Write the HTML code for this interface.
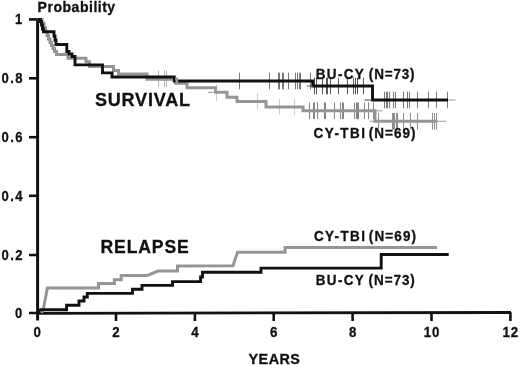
<!DOCTYPE html>
<html><head><meta charset="utf-8"><style>
html,body{margin:0;padding:0;background:#fff;width:520px;height:365px;overflow:hidden}
svg{display:block;filter:grayscale(1)}
text{font-family:"Liberation Sans",sans-serif;font-weight:bold;fill:#111;stroke:#111;stroke-width:0.3px}
</style></head><body>
<svg width="520" height="365" viewBox="0 0 520 365">
<rect width="520" height="365" fill="#fff"/>
<path d="M37.6,19.4 L37.6,320.5" stroke="#111" stroke-width="3" fill="none"/>
<path d="M36.3,313.3 L511,312.5" stroke="#111" stroke-width="2.8" fill="none"/>
<line x1="29" y1="19.4" x2="37.6" y2="19.4" stroke="#111" stroke-width="2.6"/>
<line x1="29" y1="78.3" x2="37.6" y2="78.3" stroke="#111" stroke-width="2.6"/>
<line x1="29" y1="137.2" x2="37.6" y2="137.2" stroke="#111" stroke-width="2.6"/>
<line x1="29" y1="195.8" x2="37.6" y2="195.8" stroke="#111" stroke-width="2.6"/>
<line x1="29" y1="255.0" x2="37.6" y2="255.0" stroke="#111" stroke-width="2.6"/>
<line x1="29" y1="313" x2="37.6" y2="313" stroke="#111" stroke-width="2.6"/>
<line x1="116.0" y1="312.9" x2="116.0" y2="321" stroke="#111" stroke-width="2.6"/>
<line x1="194.9" y1="312.7" x2="194.9" y2="321" stroke="#111" stroke-width="2.6"/>
<line x1="273.7" y1="312.6" x2="273.7" y2="321" stroke="#111" stroke-width="2.6"/>
<line x1="352.6" y1="312.5" x2="352.6" y2="321" stroke="#111" stroke-width="2.6"/>
<line x1="431.5" y1="312.4" x2="431.5" y2="321" stroke="#111" stroke-width="2.6"/>
<line x1="510.4" y1="312.2" x2="510.4" y2="321" stroke="#111" stroke-width="2.6"/>
<line x1="239.5" y1="72.7" x2="239.5" y2="89.3" stroke="#222" stroke-width="1.0" opacity="0.6"/>
<line x1="269.5" y1="72.7" x2="269.5" y2="89.3" stroke="#222" stroke-width="1.0" opacity="0.6"/>
<line x1="278.5" y1="72.7" x2="278.5" y2="89.3" stroke="#222" stroke-width="1.0" opacity="0.6"/>
<line x1="279.5" y1="72.7" x2="279.5" y2="89.3" stroke="#222" stroke-width="1.0" opacity="0.6"/>
<line x1="282.5" y1="72.7" x2="282.5" y2="89.3" stroke="#222" stroke-width="1.0" opacity="0.6"/>
<line x1="283.5" y1="72.7" x2="283.5" y2="89.3" stroke="#222" stroke-width="1.0" opacity="0.6"/>
<line x1="288.5" y1="72.7" x2="288.5" y2="89.3" stroke="#222" stroke-width="1.0" opacity="0.6"/>
<line x1="295.5" y1="72.7" x2="295.5" y2="89.3" stroke="#222" stroke-width="1.0" opacity="0.6"/>
<line x1="297.5" y1="72.7" x2="297.5" y2="89.3" stroke="#222" stroke-width="1.0" opacity="0.6"/>
<line x1="299.5" y1="72.7" x2="299.5" y2="89.3" stroke="#222" stroke-width="1.0" opacity="0.6"/>
<line x1="300.5" y1="72.7" x2="300.5" y2="89.3" stroke="#222" stroke-width="1.0" opacity="0.6"/>
<line x1="310.5" y1="72.7" x2="310.5" y2="89.3" stroke="#222" stroke-width="1.0" opacity="0.6"/>
<line x1="314.5" y1="77.7" x2="314.5" y2="94.3" stroke="#222" stroke-width="1.0" opacity="0.75"/>
<line x1="316.5" y1="77.7" x2="316.5" y2="94.3" stroke="#222" stroke-width="1.0" opacity="0.75"/>
<line x1="322.5" y1="77.7" x2="322.5" y2="94.3" stroke="#222" stroke-width="1.0" opacity="0.75"/>
<line x1="326.5" y1="77.7" x2="326.5" y2="94.3" stroke="#222" stroke-width="1.0" opacity="0.75"/>
<line x1="327.5" y1="77.7" x2="327.5" y2="94.3" stroke="#222" stroke-width="1.0" opacity="0.75"/>
<line x1="330.5" y1="77.7" x2="330.5" y2="94.3" stroke="#222" stroke-width="1.0" opacity="0.75"/>
<line x1="338.5" y1="77.7" x2="338.5" y2="94.3" stroke="#222" stroke-width="1.0" opacity="0.75"/>
<line x1="347.5" y1="77.7" x2="347.5" y2="94.3" stroke="#222" stroke-width="1.0" opacity="0.75"/>
<line x1="353.5" y1="77.7" x2="353.5" y2="94.3" stroke="#222" stroke-width="1.0" opacity="0.75"/>
<line x1="355.5" y1="77.7" x2="355.5" y2="94.3" stroke="#222" stroke-width="1.0" opacity="0.75"/>
<line x1="357.5" y1="77.7" x2="357.5" y2="94.3" stroke="#222" stroke-width="1.0" opacity="0.75"/>
<line x1="363.5" y1="77.7" x2="363.5" y2="94.3" stroke="#222" stroke-width="1.0" opacity="0.75"/>
<line x1="384.5" y1="91.7" x2="384.5" y2="108.3" stroke="#222" stroke-width="1.0" opacity="0.6"/>
<line x1="386.5" y1="91.7" x2="386.5" y2="108.3" stroke="#222" stroke-width="1.0" opacity="0.6"/>
<line x1="387.5" y1="91.7" x2="387.5" y2="108.3" stroke="#222" stroke-width="1.0" opacity="0.6"/>
<line x1="389.5" y1="91.7" x2="389.5" y2="108.3" stroke="#222" stroke-width="1.0" opacity="0.6"/>
<line x1="393.5" y1="91.7" x2="393.5" y2="108.3" stroke="#222" stroke-width="1.0" opacity="0.6"/>
<line x1="395.5" y1="91.7" x2="395.5" y2="108.3" stroke="#222" stroke-width="1.0" opacity="0.6"/>
<line x1="403.5" y1="91.7" x2="403.5" y2="108.3" stroke="#222" stroke-width="1.0" opacity="0.6"/>
<line x1="407.5" y1="91.7" x2="407.5" y2="108.3" stroke="#222" stroke-width="1.0" opacity="0.6"/>
<line x1="409.5" y1="91.7" x2="409.5" y2="108.3" stroke="#222" stroke-width="1.0" opacity="0.6"/>
<line x1="417.5" y1="91.7" x2="417.5" y2="108.3" stroke="#222" stroke-width="1.0" opacity="0.6"/>
<line x1="428.5" y1="91.7" x2="428.5" y2="108.3" stroke="#222" stroke-width="1.0" opacity="0.6"/>
<line x1="436.5" y1="91.7" x2="436.5" y2="108.3" stroke="#222" stroke-width="1.0" opacity="0.6"/>
<line x1="447.5" y1="91.7" x2="447.5" y2="108.3" stroke="#222" stroke-width="1.0" opacity="0.6"/>
<line x1="158.5" y1="70.5" x2="158.5" y2="87.1" stroke="#888" stroke-width="1.0" opacity="0.6"/>
<line x1="164.5" y1="70.5" x2="164.5" y2="87.1" stroke="#888" stroke-width="1.0" opacity="0.6"/>
<line x1="166.5" y1="70.5" x2="166.5" y2="87.1" stroke="#888" stroke-width="1.0" opacity="0.6"/>
<line x1="216.5" y1="84.7" x2="216.5" y2="101.3" stroke="#999" stroke-width="1.0" opacity="0.5"/>
<line x1="257.5" y1="93.2" x2="257.5" y2="109.8" stroke="#999" stroke-width="1.0" opacity="0.5"/>
<line x1="279.5" y1="98.60000000000001" x2="279.5" y2="115.2" stroke="#999" stroke-width="1.0" opacity="0.5"/>
<line x1="294.5" y1="98.60000000000001" x2="294.5" y2="115.2" stroke="#999" stroke-width="1.0" opacity="0.5"/>
<line x1="309.5" y1="102.5" x2="309.5" y2="119.1" stroke="#333" stroke-width="1.0" opacity="0.6"/>
<line x1="313.5" y1="102.5" x2="313.5" y2="119.1" stroke="#333" stroke-width="1.0" opacity="0.6"/>
<line x1="314.5" y1="102.5" x2="314.5" y2="119.1" stroke="#333" stroke-width="1.0" opacity="0.6"/>
<line x1="317.5" y1="102.5" x2="317.5" y2="119.1" stroke="#333" stroke-width="1.0" opacity="0.6"/>
<line x1="324.5" y1="102.5" x2="324.5" y2="119.1" stroke="#333" stroke-width="1.0" opacity="0.6"/>
<line x1="325.5" y1="102.5" x2="325.5" y2="119.1" stroke="#333" stroke-width="1.0" opacity="0.6"/>
<line x1="334.5" y1="102.5" x2="334.5" y2="119.1" stroke="#333" stroke-width="1.0" opacity="0.6"/>
<line x1="340.5" y1="102.5" x2="340.5" y2="119.1" stroke="#333" stroke-width="1.0" opacity="0.6"/>
<line x1="342.5" y1="102.5" x2="342.5" y2="119.1" stroke="#333" stroke-width="1.0" opacity="0.6"/>
<line x1="343.5" y1="102.5" x2="343.5" y2="119.1" stroke="#333" stroke-width="1.0" opacity="0.6"/>
<line x1="354.5" y1="102.5" x2="354.5" y2="119.1" stroke="#333" stroke-width="1.0" opacity="0.6"/>
<line x1="356.5" y1="102.5" x2="356.5" y2="119.1" stroke="#333" stroke-width="1.0" opacity="0.6"/>
<line x1="357.5" y1="102.5" x2="357.5" y2="119.1" stroke="#333" stroke-width="1.0" opacity="0.6"/>
<line x1="358.5" y1="102.5" x2="358.5" y2="119.1" stroke="#333" stroke-width="1.0" opacity="0.6"/>
<line x1="364.5" y1="102.5" x2="364.5" y2="119.1" stroke="#333" stroke-width="1.0" opacity="0.6"/>
<line x1="368.5" y1="102.5" x2="368.5" y2="119.1" stroke="#333" stroke-width="1.0" opacity="0.6"/>
<line x1="373.5" y1="102.5" x2="373.5" y2="119.1" stroke="#333" stroke-width="1.0" opacity="0.6"/>
<line x1="378.5" y1="113.0" x2="378.5" y2="129.6" stroke="#444" stroke-width="1.0" opacity="0.6"/>
<line x1="392.5" y1="113.0" x2="392.5" y2="129.6" stroke="#444" stroke-width="1.0" opacity="0.6"/>
<line x1="393.5" y1="113.0" x2="393.5" y2="129.6" stroke="#444" stroke-width="1.0" opacity="0.6"/>
<line x1="394.5" y1="113.0" x2="394.5" y2="129.6" stroke="#444" stroke-width="1.0" opacity="0.6"/>
<line x1="396.5" y1="113.0" x2="396.5" y2="129.6" stroke="#444" stroke-width="1.0" opacity="0.6"/>
<line x1="397.5" y1="113.0" x2="397.5" y2="129.6" stroke="#444" stroke-width="1.0" opacity="0.6"/>
<line x1="403.5" y1="113.0" x2="403.5" y2="129.6" stroke="#444" stroke-width="1.0" opacity="0.6"/>
<line x1="410.5" y1="113.0" x2="410.5" y2="129.6" stroke="#444" stroke-width="1.0" opacity="0.6"/>
<line x1="417.5" y1="113.0" x2="417.5" y2="129.6" stroke="#444" stroke-width="1.0" opacity="0.6"/>
<line x1="432.5" y1="113.0" x2="432.5" y2="129.6" stroke="#444" stroke-width="1.0" opacity="0.6"/>
<line x1="434.5" y1="113.0" x2="434.5" y2="129.6" stroke="#444" stroke-width="1.0" opacity="0.6"/>
<line x1="436.5" y1="113.0" x2="436.5" y2="129.6" stroke="#444" stroke-width="1.0" opacity="0.6"/>
<path d="M37.5,19.4 L42,19.4 L42,23 L44,23 L44,27.5 L45.5,27.5 L45.5,31.5 L47,31.5 L47,35.5 L48.5,35.5 L48.5,39 L50,39 L50,42.5 L51.5,42.5 L51.5,45.5 L53,45.5 L53,48.5 L54.5,48.5 L54.5,51.5 L56.5,51.5 L56.5,54.5 L68,54.5 L68,58.3 L86,58.3 L86,61.7 L89.5,61.7 L89.5,66.5 L113.5,66.5 L113.5,70.5 L118.5,70.5 L118.5,74.1 L147,74.1 L147,79.3 L175.5,79.3 L175.5,83.3 L187,83.3 L187,87.7 L215.6,87.7 L215.6,92.3 L227,92.3 L227,97.2 L237,97.2 L237,101.5 L266,101.5 L266,106.9 L303,106.9 L303,110.8 L375,110.8 L375,121.3 L437.5,121.3" stroke="#959595" stroke-width="3.0" fill="none" stroke-linejoin="miter"/>
<path d="M37.5,19.4 L40.4,19.4 L40.4,21.5 L41.5,21.5 L41.5,25 L42.5,25 L42.5,29 L43.5,29 L43.5,31.8 L54,31.8 L54,36 L55,36 L55,40 L56,40 L56,44.5 L66.8,44.5 L66.8,51.5 L69,51.5 L69,54 L72,54 L72,56.5 L75,56.5 L75,64.9 L102.5,64.9 L102.5,72.9 L112,72.9 L112,77 L174.3,77 L174.3,81 L312.8,81 L312.8,86 L372.5,86 L372.5,100 L448,100" stroke="#111" stroke-width="2.9" fill="none" stroke-linejoin="miter"/>
<path d="M41.5,313 L43.4,308.8 L47.4,287.9 L98.5,287.9 L98.5,283.4 L114.4,283.4 L114.4,279.8 L121.25,279.8 L121.25,275.4 L147.5,275.4 L158,271 L177.5,271 L177.5,266 L233,265.8 L237.5,252.2 L285,252.2 L285,247.5 L437,247.5" stroke="#959595" stroke-width="3.0" fill="none" stroke-linejoin="miter"/>
<path d="M37.5,312.5 L40.4,309.8 L66.6,309.8 L66.6,305.2 L79,305.2 L79,301 L84,301 L84,297 L87.3,297 L87.3,293.4 L132.5,293.4 L132.5,289.2 L142,289.2 L142,285.4 L172.5,285.4 L172.5,281.6 L200.6,281.6 L200.6,277 L202.5,277 L202.5,272.3 L261,272.3 L261,268.1 L381.2,268.1 L381.2,254.5 L448.7,254.5" stroke="#111" stroke-width="2.9" fill="none" stroke-linejoin="miter"/>
<path d="M175.2,78.8 L176.8,78.8 L176.8,83" stroke="#959595" stroke-width="2.6" fill="none"/>
<line x1="208" y1="92.3" x2="216" y2="92.3" stroke="#999" stroke-width="1"/>
<line x1="375" y1="110.8" x2="382.5" y2="110.8" stroke="#999" stroke-width="1"/>
<line x1="369.5" y1="121.3" x2="375" y2="121.3" stroke="#999" stroke-width="1"/>
<line x1="364.5" y1="100" x2="372.5" y2="100" stroke="#444" stroke-width="1"/>
<line x1="307" y1="86" x2="312.8" y2="86" stroke="#555" stroke-width="1"/>
<line x1="448" y1="100" x2="455.6" y2="100" stroke="#999" stroke-width="1"/>
<line x1="437.5" y1="121.3" x2="446" y2="121.3" stroke="#999" stroke-width="1"/>
<text transform="translate(37.6,12.1) scale(0.97,1)" font-size="14.5" textLength="80.00" lengthAdjust="spacing" text-anchor="start">Probability</text>
<text transform="translate(95,105.7) scale(0.96,1)" font-size="18.8" textLength="98.96" lengthAdjust="spacing" text-anchor="start">SURVIVAL</text>
<text transform="translate(100.5,253.1) scale(0.96,1)" font-size="18.3" textLength="91.98" lengthAdjust="spacing" text-anchor="start">RELAPSE</text>
<text transform="translate(248.5,363.7) scale(0.95,1)" font-size="15.2" textLength="54.21" lengthAdjust="spacing" text-anchor="start">YEARS</text>
<text transform="translate(315.8,79.0) scale(0.95,1)" font-size="14.2" textLength="50.47" lengthAdjust="spacing" text-anchor="start">BU-CY</text>
<text transform="translate(368.8,79.0) scale(0.95,1)" font-size="14.2" textLength="48.21" lengthAdjust="spacing" text-anchor="start">(N=73)</text>
<text transform="translate(313.6,138.3) scale(0.95,1)" font-size="14.2" textLength="54.06" lengthAdjust="spacing" text-anchor="start">CY-TBI</text>
<text transform="translate(368.8,138.3) scale(0.95,1)" font-size="14.2" textLength="49.26" lengthAdjust="spacing" text-anchor="start">(N=69)</text>
<text transform="translate(313.9,241.2) scale(0.95,1)" font-size="14.2" textLength="53.68" lengthAdjust="spacing" text-anchor="start">CY-TBI</text>
<text transform="translate(368.8,241.2) scale(0.95,1)" font-size="14.2" textLength="49.79" lengthAdjust="spacing" text-anchor="start">(N=69)</text>
<text transform="translate(315.8,285.2) scale(0.95,1)" font-size="14.2" textLength="50.47" lengthAdjust="spacing" text-anchor="start">BU-CY</text>
<text transform="translate(368.6,285.2) scale(0.95,1)" font-size="14.2" textLength="48.63" lengthAdjust="spacing" text-anchor="start">(N=73)</text>
<text transform="translate(22.2,23.6) scale(0.9,1)" font-size="14.5" text-anchor="end">1</text>
<text transform="translate(1.6,82.6) scale(0.9,1)" font-size="14.5" textLength="23.33" lengthAdjust="spacing" text-anchor="start">0.8</text>
<text transform="translate(1.6,141.6) scale(0.9,1)" font-size="14.5" textLength="23.33" lengthAdjust="spacing" text-anchor="start">0.6</text>
<text transform="translate(1.6,200.6) scale(0.9,1)" font-size="14.5" textLength="23.33" lengthAdjust="spacing" text-anchor="start">0.4</text>
<text transform="translate(1.6,259.6) scale(0.9,1)" font-size="14.5" textLength="23.33" lengthAdjust="spacing" text-anchor="start">0.2</text>
<text transform="translate(22.2,318) scale(0.9,1)" font-size="14.5" text-anchor="end">0</text>
<text transform="translate(37.1,336.8) scale(0.9,1)" font-size="14.8" text-anchor="middle">0</text>
<text transform="translate(115.97999999999999,336.8) scale(0.9,1)" font-size="14.8" text-anchor="middle">2</text>
<text transform="translate(194.85999999999999,336.8) scale(0.9,1)" font-size="14.8" text-anchor="middle">4</text>
<text transform="translate(273.74,336.8) scale(0.9,1)" font-size="14.8" text-anchor="middle">6</text>
<text transform="translate(352.62,336.8) scale(0.9,1)" font-size="14.8" text-anchor="middle">8</text>
<text transform="translate(431.5,336.8) scale(0.9,1)" font-size="14.8" textLength="17.33" lengthAdjust="spacing" text-anchor="middle">10</text>
<text transform="translate(510.38,336.8) scale(0.9,1)" font-size="14.8" textLength="17.33" lengthAdjust="spacing" text-anchor="middle">12</text>
</svg>
</body></html>
